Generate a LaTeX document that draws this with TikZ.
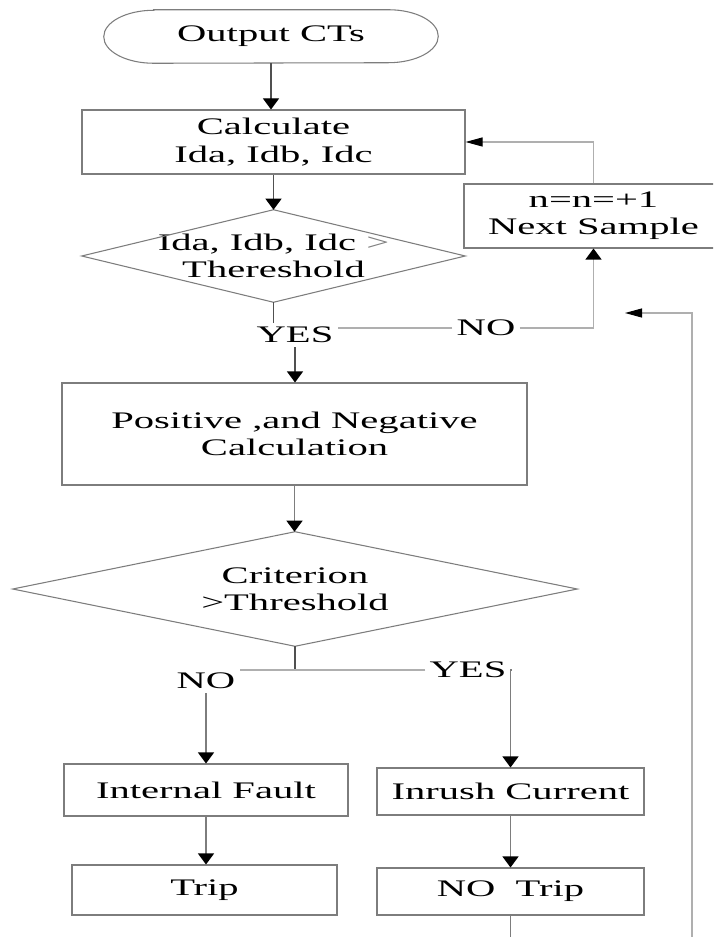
\documentclass[tikz,border=0pt]{standalone}
\usepackage{fontspec}
\setmainfont[FakeStretch=1.71]{Liberation Serif}
\usetikzlibrary{arrows.meta}
\definecolor{boxgray}{RGB}{125,125,125}
\definecolor{darkline}{RGB}{80,80,80}
\definecolor{lightline}{RGB}{175,175,175}
\tikzset{
  txt/.style={font=\fontsize{17.8}{20.5}\selectfont, align=center, inner sep=0.75pt},
  lbl/.style={txt, inner sep=3pt},
  procbox/.style={txt, rectangle, draw=boxgray, line width=0.8pt},
  ghost/.style={txt, rectangle, draw=none},
  link/.style={line width=0.8pt},
  vflow/.style={link, -{Triangle[length=8.25pt,width=12pt,color=black,fill=black]}},
  hflow/.style={link, -{Triangle[length=12.75pt,width=6.75pt,color=black,fill=black]}}
}
\begin{document}
\begin{tikzpicture}[x=0.75pt,y=0.75pt,yscale=-1,xscale=1]
        \useasboundingbox (0,0) rectangle (713,937);
        \clip (0,0) rectangle (713,937);
        %Shape: Terminal
        \node [ghost, minimum width=250.5pt, minimum height=39.75pt] (out) at (271,36.5) {Output CTs};
        \draw [boxgray, line width=0.8pt] ([xshift=37.5pt]out.north west) -- ([xshift=-37.5pt]out.north east)
            arc [start angle=-90, end angle=90, x radius=37.5pt, y radius=19.875pt]
            -- ([xshift=37.5pt]out.south west)
            arc [start angle=90, end angle=270, x radius=37.5pt, y radius=19.875pt] -- cycle ;
        %Shape: Rectangle
        \node [procbox, minimum width=287.25pt, minimum height=48pt] (calc) at (273.5,142) {Calculate\\ Ida, Idb, Idc};
        %Shape: Diamond
        \node [ghost, minimum width=287.25pt, minimum height=69pt] (chk) at (273.5,256) {Ida, Idb, Idc \textcolor{gray}{>}\\ Thereshold};
        %Shape: Rectangle
        \node [procbox, minimum width=194.25pt, minimum height=48pt] (nxt) at (593.5,216) {n=n=+1\\ Next Sample};
        %Shape: Rectangle
        \node [procbox, minimum width=348.75pt, minimum height=76.5pt] (pos) at (294.5,434) {Positive ,and Negative\\ Calculation};
        %Shape: Diamond
        \node [ghost, minimum width=423pt, minimum height=85.5pt] (crit) at (295,589) {Criterion\\ >Threshold};
        %Shape: Rectangle
        \node [procbox, minimum width=213pt, minimum height=39pt] (flt) at (206,790) {Internal Fault};
        \node [procbox, minimum width=200.25pt, minimum height=35.25pt] (inr) at (510.5,791.5) {Inrush Current};
        \node [procbox, minimum width=198.75pt, minimum height=37.5pt] (trip) at (204.5,890) {Trip};
        \node [procbox, minimum width=200.25pt, minimum height=35.25pt] (notrip) at (510.5,891.5) {NO~~Trip};
        \foreach \d in {chk,crit}
            \draw [boxgray, line width=0.8pt] (\d.north) -- (\d.east) -- (\d.south) -- (\d.west) -- cycle ;
        % Text Node
        \node [lbl] (yes1) at (295,335) {YES};
        \node [lbl] (no1) at (486,328) {NO};
        \node [lbl] (no2) at (206,681) {NO};
        \node [lbl] (yes2) at (468,670) {YES};
        \coordinate (nt-end) at (510.5,937);
        \coordinate (fb-end) at (692,937);
        \coordinate (fb-tip) at (625,313);
        %Straight Lines
        \draw [vflow, darkline] (out.south) -- (out.south |- calc.north);
        \draw [vflow, darkline] (calc.south) -- (chk.north);
        \draw [link, darkline] (chk.south) -- (chk.south |- yes1.north);
        \draw [vflow, darkline] (yes1.south) -- (yes1.south |- pos.north);
        \draw [link, lightline] (no1.west) -- (no1.west -| yes1.east);
        \draw [vflow, lightline] (no1.east) -| (nxt.south);
        \draw [hflow, lightline] (nxt.north) |- (calc.east);
        \draw [vflow, boxgray] (pos.south) -- (pos.south |- crit.north);
        \draw [link, darkline] (crit.south) -- (crit.south |- yes2.west);
        \draw [link, lightline] (yes2.west) -- (yes2.west -| no2.east);
        \draw [vflow, boxgray] (yes2.east) -| (inr.north);
        \draw [vflow, boxgray] (no2.south) -- (no2.south |- flt.north);
        \draw [vflow, boxgray] (flt.south) -- (flt.south |- trip.north);
        \draw [vflow, boxgray] (inr.south) -- (notrip.north);
        \draw [link, boxgray] (notrip.south) -- (nt-end);
        \draw [hflow, lightline] (fb-end) |- (fb-tip);
    \end{tikzpicture}
\end{document}
